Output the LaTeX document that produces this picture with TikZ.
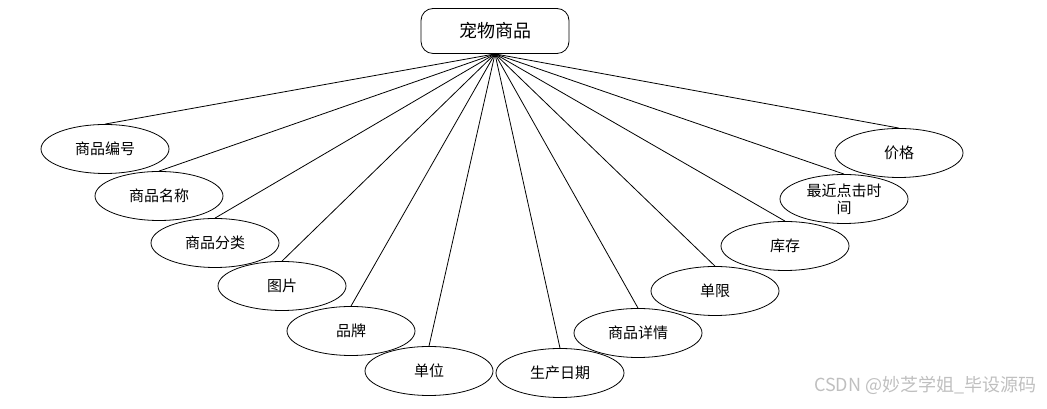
\documentclass[tikz,border=0pt]{standalone}
\usepackage{fontspec}
\setmainfont{Noto Sans CJK SC}
\usepackage{tikz}
\usetikzlibrary{shapes.geometric}
\tikzset{
  attr/.style={draw, ellipse, line width=0.8pt, minimum width=128pt, minimum height=49pt,
    inner sep=0pt, font=\fontsize{15}{17}\selectfont, align=center},
  entity/.style={draw, rounded corners=12pt, line width=0.8pt, minimum width=148pt,
    minimum height=45pt, font=\fontsize{18}{21}\selectfont}
}

\begin{document}
\begin{tikzpicture}[x=1pt, y=1pt]
  \useasboundingbox (0,0) rectangle (1047,409);

  % Entity
  \node[entity] (pet) at (495,378) {宠物商品};
  \coordinate (hub) at (pet.south);

  % Attributes, left side
  \node[attr] (bianhao) at (105,260) {商品编号};
  \node[attr] (mingcheng) at (159,213) {商品名称};
  \node[attr] (fenlei) at (215,166) {商品分类};
  \node[attr] (tupian) at (282,123) {图片};
  \node[attr] (pinpai) at (351,78) {品牌};
  \node[attr] (danwei) at (429,38) {单位};

  % Attributes, right side
  \node[attr] (riqi) at (560,36) {生产日期};
  \node[attr] (xiangqing) at (638,76) {商品详情};
  \node[attr] (danxian) at (715,118) {单限};
  \node[attr] (kucun) at (785,163) {库存};
  \node[attr] (dianji) at (844,210) {最近点击时\\间};
  \node[attr] (jiage) at (899,256) {价格};

  % Connectors
  \foreach \n in {bianhao,mingcheng,fenlei,tupian,pinpai,danwei,
                  riqi,xiangqing,danxian,kucun,dianji,jiage}
    \draw[line width=0.8pt] (hub) -- (\n.north);

  % Watermark
  \node[font=\fontsize{18}{20}\selectfont, text=black!25, anchor=east] (mark) at (1040,24) {CSDN @妙芝学姐\_毕设源码};
\end{tikzpicture}
\end{document}
